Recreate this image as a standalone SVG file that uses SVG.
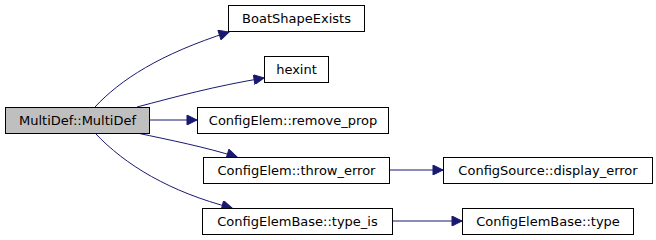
<svg xmlns="http://www.w3.org/2000/svg" width="656" height="240" viewBox="0 0 656 240">
<style>
.n rect{fill:#ffffff;stroke:#000000;stroke-width:1}
.n.cur rect{fill:#bfbfbf}
.n text{font-family:"DejaVu Sans",sans-serif;font-size:13px;fill:#000000;text-anchor:middle}
.e path{fill:none;stroke:#191970;stroke-width:1}
</style>
<defs>
<marker id="ah" viewBox="0 0 10 10" refX="10" refY="5" markerWidth="14" markerHeight="10" markerUnits="userSpaceOnUse" orient="auto">
<path d="M0,0 L10,5 L0,10 z" fill="#191970" stroke="#191970"/>
</marker>
</defs>
<rect width="656" height="240" fill="#ffffff"/>
<g id="edges" class="e">
<path d="M95,107 C120,80 160,54 229,32" marker-end="url(#ah)"/>
<path d="M137,107 C175,97 215,86 264,78" marker-end="url(#ah)"/>
<path d="M149,120 L197,120" marker-end="url(#ah)"/>
<path d="M137,133 C170,140 205,147 237,157" marker-end="url(#ah)"/>
<path d="M95,133 C125,165 170,192 232,208" marker-end="url(#ah)"/>
<path d="M389,170 L443,170" marker-end="url(#ah)"/>
<path d="M392,221 L462,221" marker-end="url(#ah)"/>
</g>
<g id="node-multidef" class="n cur"><rect x="5.5" y="107.5" width="144" height="26"/><text x="77.5" y="124.5">MultiDef::MultiDef</text></g>
<g id="node-boatshapeexists" class="n"><rect x="228.5" y="5.5" width="136" height="26"/><text x="296.5" y="23">BoatShapeExists</text></g>
<g id="node-hexint" class="n"><rect x="264.5" y="56.5" width="64" height="26"/><text x="296.5" y="74">hexint</text></g>
<g id="node-remove-prop" class="n"><rect x="197.5" y="107.5" width="191" height="26"/><text x="293" y="124.5">ConfigElem::remove_prop</text></g>
<g id="node-throw-error" class="n"><rect x="203.5" y="157.5" width="186" height="26"/><text x="296.5" y="175">ConfigElem::throw_error</text></g>
<g id="node-type-is" class="n"><rect x="202.5" y="208.5" width="190" height="26"/><text x="297.5" y="226">ConfigElemBase::type_is</text></g>
<g id="node-display-error" class="n"><rect x="443.5" y="157.5" width="209" height="26"/><text x="548" y="175">ConfigSource::display_error</text></g>
<g id="node-type" class="n"><rect x="462.5" y="208.5" width="171" height="26"/><text x="548" y="226">ConfigElemBase::type</text></g>
</svg>
